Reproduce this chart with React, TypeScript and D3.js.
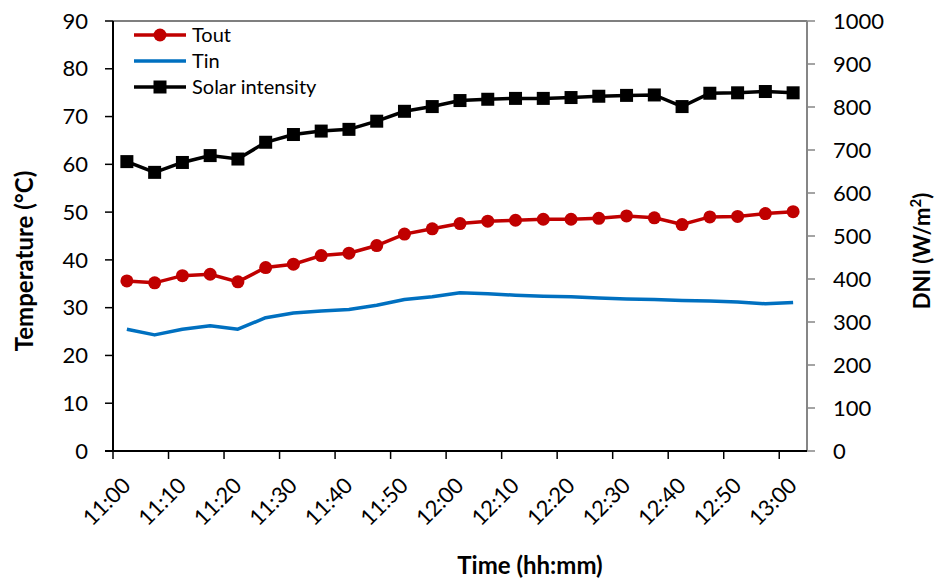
import React from 'react';
import * as d3 from 'd3';

// sample times, minutes after 11:00
const sampleMinutes = [2.5, 7.5, 12.5, 17.5, 22.5, 27.5, 32.5, 37.5, 42.5, 47.5, 52.5, 57.5, 62.5,
  67.5, 72.5, 77.5, 82.5, 87.5, 92.5, 97.5, 102.5, 107.5, 112.5, 117.5, 122.5];
const tout = [35.6, 35.2, 36.7, 37.0, 35.4, 38.4, 39.1, 40.9, 41.4, 43.0, 45.4, 46.5, 47.6,
  48.1, 48.3, 48.5, 48.5, 48.7, 49.2, 48.8, 47.4, 49.0, 49.1, 49.7, 50.1];
const tin = [25.5, 24.3, 25.5, 26.2, 25.5, 27.9, 28.9, 29.3, 29.6, 30.5, 31.7, 32.3, 33.1,
  32.9, 32.6, 32.4, 32.3, 32.0, 31.8, 31.7, 31.5, 31.4, 31.2, 30.8, 31.1];
const solar = [673, 648, 671, 687, 679, 718, 736, 744, 748, 767, 790, 801, 815,
  818, 820, 820, 822, 825, 827, 828, 801, 832, 833, 836, 833];
const timeTicks = ['11:00', '11:10', '11:20', '11:30', '11:40', '11:50', '12:00',
  '12:10', '12:20', '12:30', '12:40', '12:50', '13:00'];
const tempTicks = [0, 10, 20, 30, 40, 50, 60, 70, 80, 90];
const dniTicks = [0, 100, 200, 300, 400, 500, 600, 700, 800, 900, 1000];

const RED = '#C00000';
const BLUE = '#0070C0';
const FONT = 'Lato, "DejaVu Sans", sans-serif';

const toMin = (s: string) => {
  const [h, m] = s.split(':').map(Number);
  return (h - 11) * 60 + m;
};

export default function App() {
  const left = 113, right = 807, top = 21, bottom = 451;
  const x = d3.scaleLinear().domain([0, 125]).range([left, right]);
  const yT = d3.scaleLinear().domain([0, 90]).range([bottom, top]);
  const yS = d3.scaleLinear().domain([0, 1000]).range([bottom, top]);

  const lineT = d3.line<number>().x((_, i) => x(sampleMinutes[i])).y(d => yT(d));
  const lineS = d3.line<number>().x((_, i) => x(sampleMinutes[i])).y(d => yS(d));

  return (
    <svg width={940} height={581} style={{ position: 'absolute', left: 0, top: 0, background: '#fff' }}
      fontFamily={FONT}>
      {/* plot frame */}
      <line x1={left} x2={right} y1={top} y2={top} stroke="#000" strokeWidth={1.2} />
      <line x1={right} x2={right} y1={top} y2={bottom} stroke="#868686" strokeWidth={2} />
      <line x1={left} x2={left} y1={top} y2={bottom} stroke="#000" strokeWidth={2} />

      {/* left axis */}
      {tempTicks.map(t => (
        <g key={'t' + t}>
          <line x1={left - 8} x2={left} y1={yT(t)} y2={yT(t)} stroke="#000" strokeWidth={1.5} />
          <text x={left - 25} y={yT(t)} dy="0.35em" textAnchor="end" fontSize={22}>{t}</text>
        </g>
      ))}
      {/* right axis */}
      {dniTicks.map(t => (
        <g key={'s' + t}>
          <line x1={right} x2={right + 8} y1={yS(t)} y2={yS(t)} stroke="#868686" strokeWidth={1.5} />
          <text x={right + 26} y={yS(t)} dy="0.35em" textAnchor="start" fontSize={22}>{t}</text>
        </g>
      ))}
      {/* bottom axis */}
      <line x1={left - 8} x2={right} y1={bottom} y2={bottom} stroke="#000" strokeWidth={2} />
      {timeTicks.map(t => {
        const tx = x(toMin(t));
        return (
          <g key={t}>
            <line x1={tx} x2={tx} y1={bottom} y2={bottom + 8} stroke="#000" strokeWidth={1.5} />
            <text transform={`translate(${tx + 19},${bottom + 36}) rotate(-45)`} textAnchor="end"
              fontSize={22}>{t}</text>
          </g>
        );
      })}

      {/* axis titles */}
      <text transform="translate(33,261) rotate(-90)" textAnchor="middle" fontSize={24} fontWeight="bold">
        Temperature (°C)
      </text>
      <text transform="translate(930,251) rotate(-90)" textAnchor="middle" fontSize={22} fontWeight="bold">
        DNI (W/m<tspan baselineShift="super" fontSize={15}>2</tspan>)
      </text>
      <text x={530} y={574} textAnchor="middle" fontSize={24} fontWeight="bold">Time (hh:mm)</text>

      {/* series */}
      <path d={lineT(tin) ?? ''} fill="none" stroke={BLUE} strokeWidth={3.5} strokeLinejoin="round" />
      <path d={lineT(tout) ?? ''} fill="none" stroke={RED} strokeWidth={3.5} />
      {tout.map((v, i) => (
        <circle key={'c' + i} cx={x(sampleMinutes[i])} cy={yT(v)} r={6.5} fill={RED} />
      ))}
      <path d={lineS(solar) ?? ''} fill="none" stroke="#000" strokeWidth={3.5} />
      {solar.map((v, i) => (
        <rect key={'r' + i} x={x(sampleMinutes[i]) - 6.5} y={yS(v) - 6.5} width={13} height={13} fill="#000" />
      ))}

      {/* legend */}
      <g fontSize={20}>
        <line x1={134} x2={186} y1={35} y2={35} stroke={RED} strokeWidth={3.5} />
        <circle cx={160} cy={35} r={6.5} fill={RED} />
        <text x={192} y={35} dy="0.35em">Tout</text>
        <line x1={134} x2={186} y1={61} y2={61} stroke={BLUE} strokeWidth={3.5} />
        <text x={192} y={61} dy="0.35em">Tin</text>
        <line x1={134} x2={186} y1={87} y2={87} stroke="#000" strokeWidth={3.5} />
        <rect x={153.5} y={80.5} width={13} height={13} fill="#000" />
        <text x={192} y={87} dy="0.35em">Solar intensity</text>
      </g>
    </svg>
  );
}
